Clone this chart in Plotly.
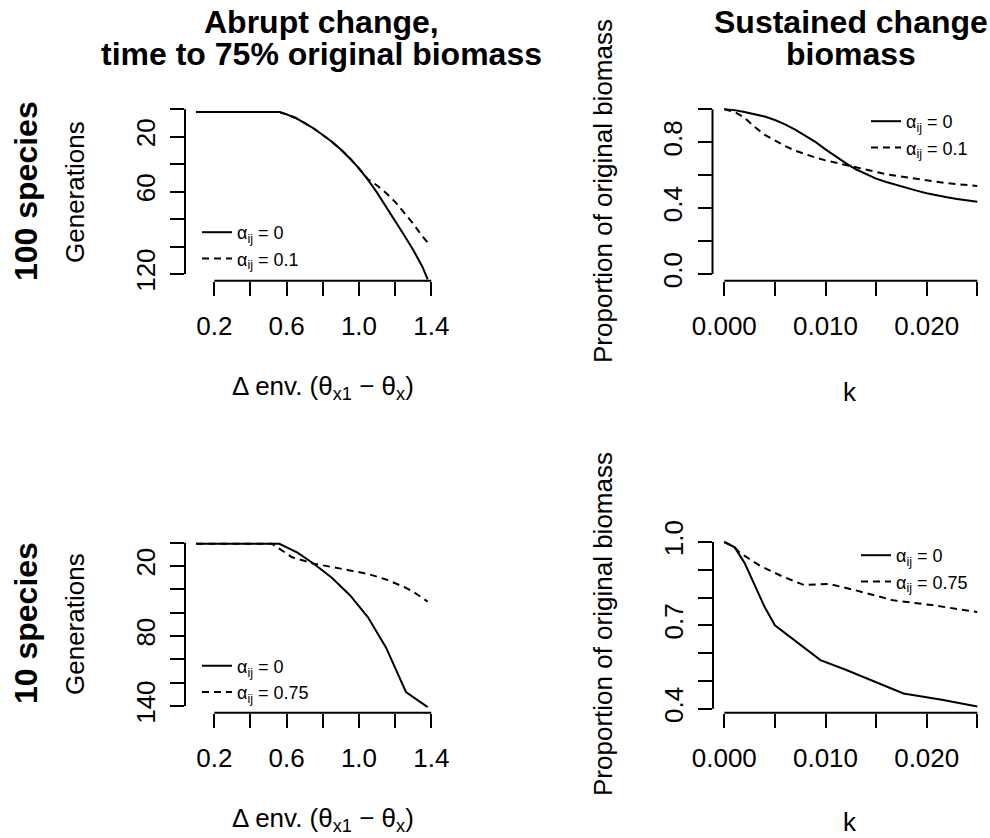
import plotly.graph_objects as go

W, H = 990, 838
FONT = "Liberation Sans, Arial, Helvetica, sans-serif"

# ---------------- data ----------------
# 100 species, abrupt change: generations to reach 75% of original biomass
delta_env_100 = [0.1, 0.2, 0.3, 0.4, 0.5, 0.56, 0.6, 0.65, 0.7, 0.75, 0.8, 0.85, 0.9,
                 0.95, 1.0, 1.05, 1.1, 1.15, 1.2, 1.25, 1.3, 1.35, 1.38]
gen_100_alpha0 = [2, 2, 2, 2, 2, 2, 3.7, 6.3, 10.0, 14.0, 18.7, 23.6, 29.3,
                  35.8, 43.1, 51.4, 60.7, 70.8, 81.2, 91.8, 102.5, 114.5, 124]
gen_100_alpha01 = [2, 2, 2, 2, 2, 2, 3.7, 6.3, 10.0, 14.0, 18.7, 23.6, 29.3,
                   35.8, 43.1, 51.0, 55.5, 61.0, 67.4, 75.0, 83.3, 92.5, 97.0]

# 100 species, sustained change: proportion of original biomass
k_100 = [0, 0.001, 0.002, 0.003, 0.004, 0.005, 0.006, 0.007, 0.008, 0.009, 0.010,
         0.011, 0.012, 0.013, 0.014, 0.015, 0.016, 0.017, 0.018, 0.019, 0.020,
         0.021, 0.022, 0.023, 0.024, 0.025]
prop_100_alpha0 = [1.0, 0.995, 0.984, 0.972, 0.956, 0.935, 0.909, 0.877, 0.842, 0.802,
                   0.757, 0.714, 0.673, 0.636, 0.605, 0.579, 0.559, 0.540, 0.522,
                   0.506, 0.490, 0.477, 0.466, 0.456, 0.447, 0.438]
prop_100_alpha01 = [1.0, 0.985, 0.948, 0.893, 0.845, 0.810, 0.777, 0.749, 0.727, 0.707,
                    0.690, 0.676, 0.659, 0.644, 0.630, 0.618, 0.606, 0.596, 0.586,
                    0.577, 0.569, 0.560, 0.552, 0.546, 0.540, 0.534]

# 10 species, abrupt change
delta_env_10_alpha0 = [0.1, 0.2, 0.3, 0.4, 0.5, 0.56, 0.66, 0.75, 0.85, 0.95, 1.05,
                       1.15, 1.26, 1.38]
gen_10_alpha0 = [1, 1, 1, 1, 1, 1, 8.5, 18, 30, 45, 64, 90, 128, 141]
delta_env_10_alpha075 = [0.1, 0.2, 0.3, 0.4, 0.5, 0.52, 0.63, 0.75, 0.85, 0.95, 1.05,
                         1.15, 1.25, 1.3, 1.38]
gen_10_alpha075 = [1, 1, 1, 1, 1, 1, 12.5, 18, 20.8, 23.7, 26.8, 31.5, 38, 42, 50.5]

# 10 species, sustained change
k_10_alpha0 = [0, 0.001, 0.002, 0.003, 0.004, 0.005, 0.0072, 0.0095, 0.012, 0.015,
               0.0177, 0.0215, 0.025]
prop_10_alpha0 = [1.0, 0.982, 0.925, 0.845, 0.765, 0.70, 0.638, 0.575, 0.54, 0.495,
                  0.455, 0.432, 0.408]
k_10_alpha075 = [0, 0.001, 0.0015, 0.0035, 0.0058, 0.0079, 0.0104, 0.013, 0.0167,
                 0.0205, 0.025]
prop_10_alpha075 = [1.0, 0.982, 0.962, 0.915, 0.875, 0.845, 0.849, 0.826, 0.79,
                    0.773, 0.748]

# ticks: labelled (major) and unlabelled (minor) positions
delta_ticks = [0.2, 0.6, 1.0, 1.4]
delta_ticktext = ["0.2", "0.6", "1.0", "1.4"]
delta_minor = [0.4, 0.8, 1.2]
k_ticks = [0, 0.010, 0.020]
k_ticktext = ["0.000", "0.010", "0.020"]
k_minor = [0.005, 0.015, 0.025]
gen100_ticks = [20, 60, 120]
gen100_ticktext = ["20", "60", "120"]
gen100_minor = [0, 40, 80, 100]
prop100_ticks = [0, 0.4, 0.8]
prop100_ticktext = ["0.0", "0.4", "0.8"]
prop100_minor = [0.2, 0.6, 1.0]
gen10_ticks = [20, 80, 140]
gen10_ticktext = ["20", "80", "140"]
gen10_minor = [0, 40, 60, 100, 120]
prop10_ticks = [0.4, 0.7, 1.0]
prop10_ticktext = ["0.4", "0.7", "1.0"]
prop10_minor = [0.5, 0.6, 0.8, 0.9]

EQ = "&nbsp;=&nbsp;"
legend_100_abrupt = ["α<sub>ij</sub>" + EQ + "0", "α<sub>ij</sub>" + EQ + "0.1"]
legend_100_sust = ["α<sub>ij</sub>" + EQ + "0", "α<sub>ij</sub>" + EQ + "0.1"]
legend_10_abrupt = ["α<sub>ij</sub>" + EQ + "0", "α<sub>ij</sub>" + EQ + "0.75"]
legend_10_sust = ["α<sub>ij</sub>" + EQ + "0", "α<sub>ij</sub>" + EQ + "0.75"]

# ---------------- layout geometry (pixels) ----------------
# each panel: plot-area box (left, right, top, bottom) + two reference ticks per axis
panels = {
    1: dict(box=(185, 440, 100, 280.7), xref=((0.2, 214.3), (1.4, 431.3)),
            yref=((0, 109.3), (120, 274))),
    2: dict(box=(712.5, 985, 100, 280.7), xref=((0.0, 724.3), (0.025, 977.3)),
            yref=((1.0, 109.3), (0.0, 274))),
    3: dict(box=(185, 440, 530, 712.7), xref=((0.2, 214.3), (1.4, 431.3)),
            yref=((0, 542.7), (140, 706))),
    4: dict(box=(713, 985, 530, 712.7), xref=((0.0, 724.3), (0.025, 977.3)),
            yref=((1.0, 542), (0.4, 708.7))),
}


def val_at(ref, p):
    (v0, p0), (v1, p1) = ref
    return v0 + (p - p0) * (v1 - v0) / (p1 - p0)


DASH = "7px,5px"
LW = 2

fig = go.Figure()

series = [
    (1, delta_env_100, gen_100_alpha0, "solid", legend_100_abrupt[0], "legend"),
    (1, delta_env_100, gen_100_alpha01, DASH, legend_100_abrupt[1], "legend"),
    (2, k_100, prop_100_alpha0, "solid", legend_100_sust[0], "legend2"),
    (2, k_100, prop_100_alpha01, DASH, legend_100_sust[1], "legend2"),
    (3, delta_env_10_alpha0, gen_10_alpha0, "solid", legend_10_abrupt[0], "legend3"),
    (3, delta_env_10_alpha075, gen_10_alpha075, DASH, legend_10_abrupt[1], "legend3"),
    (4, k_10_alpha0, prop_10_alpha0, "solid", legend_10_sust[0], "legend4"),
    (4, k_10_alpha075, prop_10_alpha075, DASH, legend_10_sust[1], "legend4"),
]
for p, xs, ys, dash, name, leg in series:
    sfx = "" if p == 1 else str(p)
    fig.add_trace(go.Scatter(x=xs, y=ys, mode="lines", name=name,
                             line=dict(color="black", width=LW, dash=dash),
                             xaxis="x" + sfx, yaxis="y" + sfx, legend=leg,
                             hoverinfo="skip"))

axis_ticks = {
    1: (delta_ticks, delta_ticktext, delta_minor, gen100_ticks, gen100_ticktext, gen100_minor),
    2: (k_ticks, k_ticktext, k_minor, prop100_ticks, prop100_ticktext, prop100_minor),
    3: (delta_ticks, delta_ticktext, delta_minor, gen10_ticks, gen10_ticktext, gen10_minor),
    4: (k_ticks, k_ticktext, k_minor, prop10_ticks, prop10_ticktext, prop10_minor),
}

layout = dict(template="none", width=W, height=H,
              margin=dict(l=0, r=0, t=0, b=0, pad=0, autoexpand=False),
              paper_bgcolor="white", plot_bgcolor="white",
              font=dict(family=FONT, color="black", size=26))
shapes = []
tickfont = dict(family=FONT, size=26, color="black")
TICK = dict(ticks="outside", ticklen=14, tickwidth=2, tickcolor="black")
for p, g in panels.items():
    l, r, t, b = g["box"]
    sfx = "" if p == 1 else str(p)
    xr = [val_at(g["xref"], l), val_at(g["xref"], r)]
    yr = [val_at(g["yref"], b), val_at(g["yref"], t)]
    xt, xtt, xm, yt, ytt, ym = axis_ticks[p]
    layout["xaxis" + sfx] = dict(domain=[l / W, r / W], range=xr, anchor="y" + sfx,
                                 showgrid=False, zeroline=False, showline=False,
                                 automargin=False,
                                 tickmode="array", tickvals=xt, ticktext=xtt,
                                 tickfont=tickfont, ticklabelstandoff=8,
                                 minor=dict(tickmode="array", tickvals=xm,
                                            showgrid=False, **TICK),
                                 fixedrange=True, **TICK)
    layout["yaxis" + sfx] = dict(domain=[1 - b / H, 1 - t / H], range=yr, anchor="x" + sfx,
                                 showgrid=False, zeroline=False, showline=False,
                                 automargin=False,
                                 tickmode="array", tickvals=yt, ticktext=ytt,
                                 tickfont=tickfont, tickangle=-90, ticklabelstandoff=5,
                                 minor=dict(tickmode="array", tickvals=ym,
                                            showgrid=False, **TICK),
                                 fixedrange=True, **TICK)
    # R-style axis lines spanning first..last tick only
    xall = sorted(xt + xm)
    yall = sorted(yt + ym)
    fx = [(v - xr[0]) / (xr[1] - xr[0]) for v in (xall[0], xall[-1])]
    fy = [(v - yr[0]) / (yr[1] - yr[0]) for v in (yall[0], yall[-1])]
    shapes.append(dict(type="line", xref="x" + sfx + " domain", yref="y" + sfx + " domain",
                       x0=fx[0], x1=fx[1], y0=0, y1=0,
                       line=dict(color="black", width=2)))
    shapes.append(dict(type="line", xref="x" + sfx + " domain", yref="y" + sfx + " domain",
                       x0=0, x1=0, y0=fy[0], y1=fy[1],
                       line=dict(color="black", width=2)))
layout["shapes"] = shapes

legfont = dict(family=FONT, size=18, color="black")
leg_pos = {"legend": (197, 214), "legend2": (866, 103),
           "legend3": (197, 647.5), "legend4": (856, 537)}
for k, (lx, ty) in leg_pos.items():
    layout[k] = dict(x=lx / W, y=1 - ty / H, xanchor="left", yanchor="top",
                     bgcolor="rgba(0,0,0,0)", borderwidth=0, font=legfont,
                     itemclick=False, itemdoubleclick=False)


def ann(text, x, y, size=26, bold=False, angle=0):
    return dict(text=("<b>%s</b>" % text) if bold else text, x=x / W, y=1 - y / H,
                xref="paper", yref="paper", xanchor="center", yanchor="middle",
                showarrow=False, textangle=angle,
                font=dict(family=FONT, size=size, color="black"))


annotations = [
    ann("Abrupt change,", 321, 22, 32, True),
    ann("time to 75% original biomass", 321, 54, 32, True),
    ann("Sustained change", 851, 22, 32, True),
    ann("biomass", 851, 54, 32, True),
    ann("100 species", 26, 191, 32, True, -90),
    ann("10 species", 26, 623, 32, True, -90),
    ann("Generations", 75, 192, 26, False, -90),
    ann("Generations", 75, 624, 26, False, -90),
    ann("Proportion of original biomass", 603, 191, 26, False, -90),
    ann("Proportion of original biomass", 603, 624, 26, False, -90),
    ann("Δ env. (θ<sub>x1</sub> − θ<sub>x</sub>)", 323, 387, 26),
    ann("Δ env. (θ<sub>x1</sub> − θ<sub>x</sub>)", 323, 819, 26),
    ann("k", 850, 392, 26),
    ann("k", 850, 822, 26),
]
layout["annotations"] = annotations

fig.update_layout(**layout)
fig.write_html("out.html")
